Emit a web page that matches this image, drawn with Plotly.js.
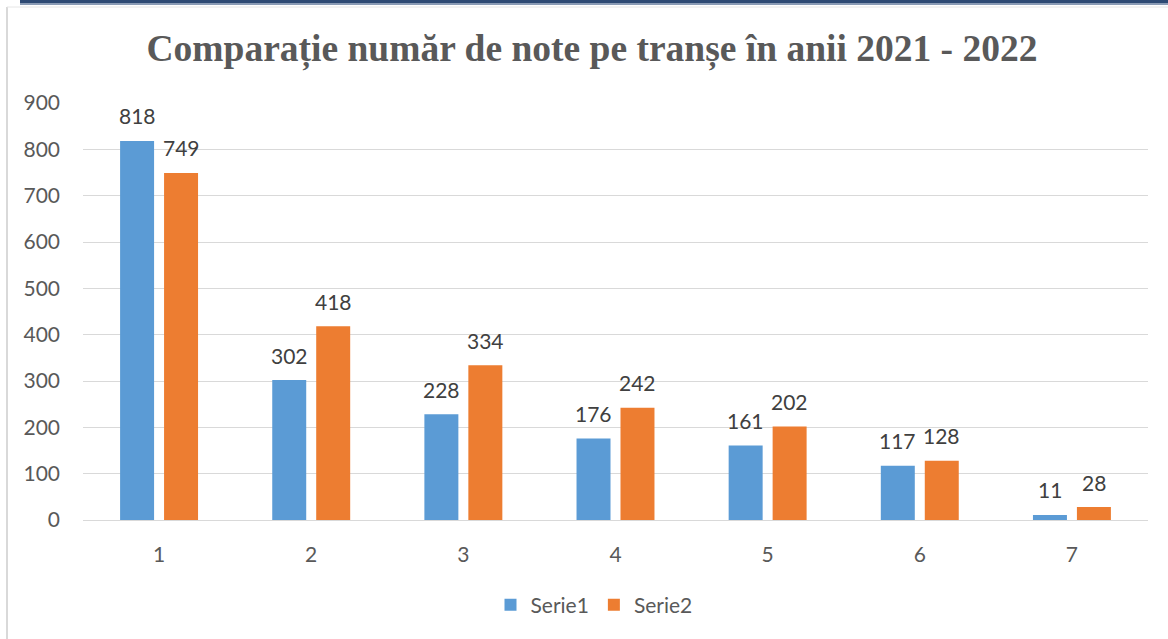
<!DOCTYPE html>
<html><head><meta charset="utf-8">
<script src="https://cdn.plot.ly/plotly-3.0.1.min.js"></script>
<style>html,body{margin:0;padding:0;background:#fff;}#chart{width:1168px;height:639px;}</style>
</head><body><div id="chart"></div>
<script>
const categories = ['1','2','3','4','5','6','7'];
const serie1 = [818, 302, 228, 176, 161, 117, 11];
const serie2 = [749, 418, 334, 242, 202, 128, 28];
const seriesNames = ['Serie1', 'Serie2'];
const titleText = 'Comparație număr de note pe tranșe în anii 2021 - 2022';

const W = 1168, H = 639, mt = 103, mb = 119, ml = 83, mr = 20;
const ph = H - mt - mb, pw = W - ml - mr;
function py(pix){ return 1 - (pix - mt)/ph; }
function px(pix){ return (pix - ml)/pw; }

const font = 'Lato, "Open Sans", sans-serif';
const FS = 21;
const traces = [
  {type:'bar', x:categories, y:serie1, name:seriesNames[0], marker:{color:'#5b9bd5'}},
  {type:'bar', x:categories, y:serie2, name:seriesNames[1], marker:{color:'#ed7d31'}}
];
// data labels as annotations above each bar (offset within group)
const half = 0.1445;
const annotations = [];
[serie1, serie2].forEach((vals, s) => {
  vals.forEach((v, i) => {
    annotations.push({xref:'x', yref:'y', x:i + (s === 0 ? -half : half), y:v,
      text:String(v), showarrow:false, yanchor:'middle', yshift:25,
      font:{family:font, size:FS, color:'#404040'}});
  });
});
const layout = {
  width:W, height:H,
  margin:{l:ml, r:mr, t:mt, b:mb},
  paper_bgcolor:'#fff', plot_bgcolor:'#fff',
  title:{text:titleText, x:px(592), xanchor:'center', xref:'paper', y:1-48/H, yanchor:'middle',
         font:{family:'"Liberation Serif", "Times New Roman", serif', size:37.5, color:'#595959', weight:'bold'}},
  barmode:'group', bargap:0.422, bargroupgap:0.227,
  xaxis:{type:'category', showgrid:false, showline:true, linecolor:'#d9d9d9', linewidth:1,
         ticks:'', ticklabelstandoff:16, tickfont:{family:font, size:FS, color:'#595959'}, zeroline:false},
  yaxis:{range:[0,900], dtick:100, showgrid:true, gridcolor:'#d9d9d9', gridwidth:1,
         zeroline:false, showline:false, ticks:'', ticklabelstandoff:22,
         tickfont:{family:font, size:FS, color:'#595959'}},
  annotations:annotations,
  showlegend:true,
  legend:{orientation:'h', x:px(594), xanchor:'center', y:py(605), yanchor:'middle',
          font:{family:font, size:FS, color:'#595959'}, itemwidth:30, traceorder:'normal'},
  shapes:[
    {type:'line', xref:'paper', yref:'paper', x0:px(7), x1:px(7), y0:py(7), y1:py(639), line:{color:'#d9d9d9', width:2}},
    {type:'line', xref:'paper', yref:'paper', x0:px(7), x1:px(1168), y0:py(7), y1:py(7), line:{color:'#e6e6e6', width:1}},
    {type:'line', xref:'paper', yref:'paper', x0:px(20), x1:px(1168), y0:py(4), y1:py(4), line:{color:'#8a9bb5', width:2}},
    {type:'line', xref:'paper', yref:'paper', x0:px(20), x1:px(1168), y0:py(1.5), y1:py(1.5), line:{color:'#2e4a74', width:3}}
  ]
};
Plotly.newPlot('chart', traces, layout, {displayModeBar:false, staticPlot:true});
</script></body></html>
